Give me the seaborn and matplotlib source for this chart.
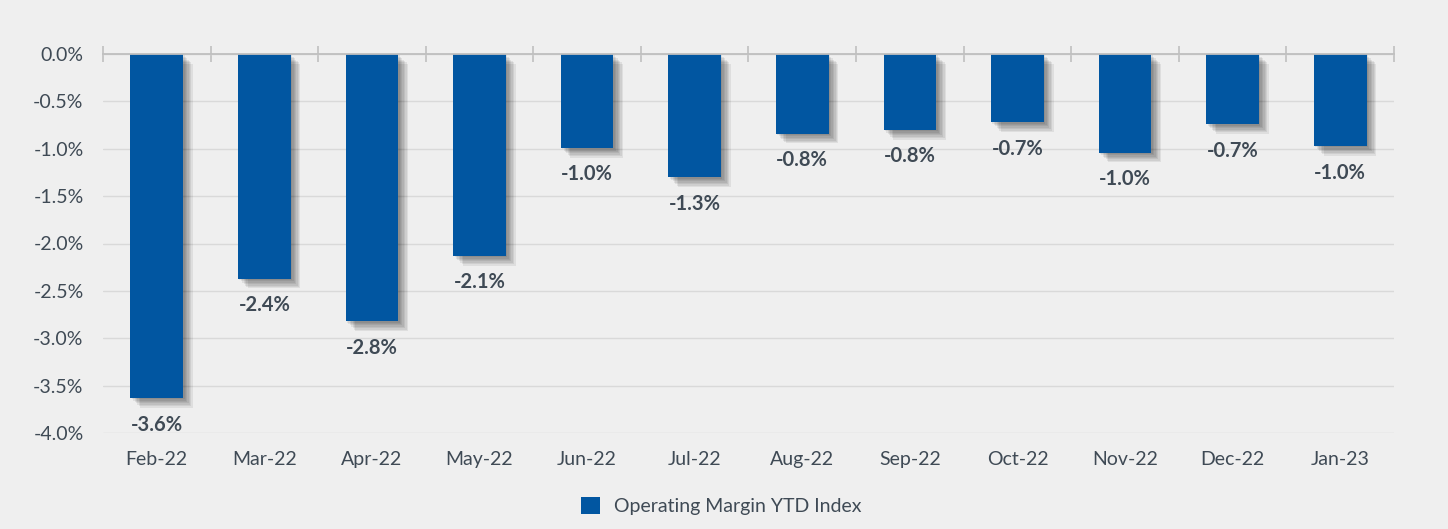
import matplotlib
matplotlib.use("Agg")
import matplotlib.pyplot as plt
import matplotlib.patheffects as pe
from matplotlib.patches import Patch
import seaborn as sns
import pandas as pd
import numpy as np

months = ["Feb-22", "Mar-22", "Apr-22", "May-22", "Jun-22", "Jul-22",
          "Aug-22", "Sep-22", "Oct-22", "Nov-22", "Dec-22", "Jan-23"]
values = [-3.63, -2.37, -2.82, -2.13, -0.99, -1.30,
          -0.84, -0.80, -0.72, -1.04, -0.74, -0.97]
series_name = "Operating Margin YTD Index"
yticks = [0.0, -0.5, -1.0, -1.5, -2.0, -2.5, -3.0, -3.5, -4.0]

BG = "#EFEFEF"
BAR = "#0156A1"
TXT = "#3F4A55"
GRID = "#D9D9D9"

sns.set_theme(style="white")
plt.rcParams["font.family"] = ["Lato", "DejaVu Sans"]

df = pd.DataFrame({"month": months, "value": values})

fig = plt.figure(figsize=(14.48, 5.29), dpi=100, facecolor=BG)
ax = fig.add_axes([103/1448, 1-433/529, (1394-103)/1448, (433-54)/529])
ax.set_facecolor(BG)

sns.barplot(data=df, x="month", y="value", color=BAR, saturation=1,
            width=0.49, ax=ax, zorder=3)

effects = [pe.SimplePatchShadow(offset=(d, -d), shadow_rgbFace="black", alpha=0.07)
           for d in (1.0, 2.0, 3.0, 4.0, 5.0, 6.0, 7.0)] + [pe.Normal()]
for p in ax.patches:
    p.set_path_effects(effects)
    p.set_edgecolor("none")

for i, v in enumerate(values):
    ax.annotate(f"{v:.1f}%", xy=(i, v), xytext=(0, -12), textcoords="offset points",
                ha="center", va="top", fontsize=14.5, fontweight="bold", color=TXT)

ax.set_xlim(-0.5, len(months) - 0.5)
ax.set_ylim(-4.0, 0.0)
ax.set_yticks(yticks)
ax.set_yticklabels([f"{t:.1f}%" for t in yticks])
ax.yaxis.grid(True, color=GRID, lw=1.0, zorder=0)
ax.set_axisbelow(True)
ax.set_xlabel("")
ax.set_ylabel("")

for s in ["left", "right", "bottom"]:
    ax.spines[s].set_visible(False)
ax.spines["top"].set_visible(True)
ax.spines["top"].set_color("#BFBFBF")
ax.spines["top"].set_linewidth(1.3)
ax.spines["top"].set_zorder(4)

ax.set_xticks(np.arange(-0.5, len(months), 1.0), minor=True)
ax.tick_params(axis="x", which="minor", bottom=False, top=True, direction="inout",
               length=11, width=1.2, color="#BFBFBF")
ax.tick_params(axis="x", which="major", bottom=True, top=False, length=0, pad=13,
               labelsize=14, labelcolor=TXT)
ax.tick_params(axis="y", length=0, pad=14, labelsize=14, labelcolor=TXT)

handle = Patch(facecolor=BAR, edgecolor="none", label=series_name)
fig.legend(handles=[handle], loc="center", bbox_to_anchor=(721/1448, 1-506/529),
           frameon=False, fontsize=14, handlelength=1.0, handleheight=1.0,
           handletextpad=0.7, labelcolor=TXT)

fig.savefig("out.png", dpi=100, facecolor=BG)
